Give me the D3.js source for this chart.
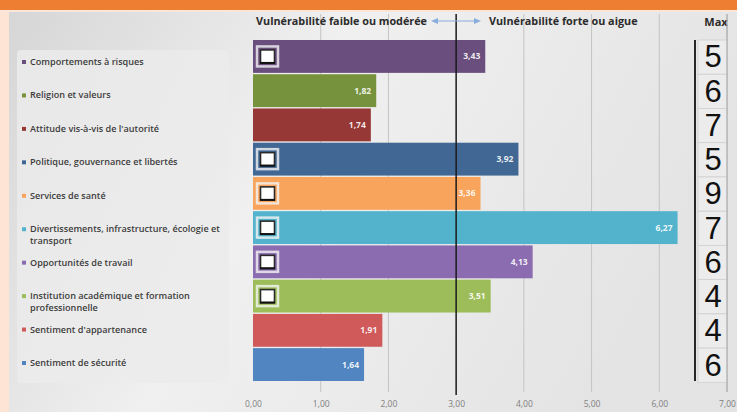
<!DOCTYPE html>
<html>
<head>
<meta charset="utf-8">
<script src="https://cdn.jsdelivr.net/npm/d3@7"></script>
<style>
  body { margin: 0; overflow: hidden; }
  svg { display: block; }
</style>
</head>
<body>
<script>
// categories from top to bottom
var categories = [
  "Comportements à risques",
  "Religion et valeurs",
  "Attitude vis-à-vis de l'autorité",
  "Politique, gouvernance et libertés",
  "Services de santé",
  "Divertissements, infrastructure, écologie et transport",
  "Opportunités de travail",
  "Institution académique et formation professionnelle",
  "Sentiment d'appartenance",
  "Sentiment de sécurité"
];
var legendLines = [
  ["Comportements à risques"],
  ["Religion et valeurs"],
  ["Attitude vis-à-vis de l'autorité"],
  ["Politique, gouvernance et libertés"],
  ["Services de santé"],
  ["Divertissements, infrastructure, écologie et", "transport"],
  ["Opportunités de travail"],
  ["Institution académique et formation", "professionnelle"],
  ["Sentiment d'appartenance"],
  ["Sentiment de sécurité"]
];
var values = [3.43, 1.82, 1.74, 3.92, 3.36, 6.27, 4.13, 3.51, 1.91, 1.64];
var maxValues = [5, 6, 7, 5, 9, 7, 6, 4, 4, 6];
var colors = ["#694e7e", "#76923c", "#963836", "#416794", "#f8a45c",
              "#53b3cc", "#8b6cb0", "#9dbd5a", "#d0595a", "#5085c2"];
var xTicks = [0, 1, 2, 3, 4, 5, 6, 7];
var threshold = 3;

var width = 737, height = 412;
var fmt = function(v) { return d3.format(".2f")(v).replace(".", ","); };

var svg = d3.select("body").append("svg")
  .attr("width", width)
  .attr("height", height);

var defs = svg.append("defs");
var bg = defs.append("linearGradient").attr("id", "bg")
  .attr("x1", 0).attr("y1", 0).attr("x2", 1).attr("y2", 0.3);
bg.append("stop").attr("offset", "0%").attr("stop-color", "#d5d5d5");
bg.append("stop").attr("offset", "45%").attr("stop-color", "#f0f0f0");
bg.append("stop").attr("offset", "100%").attr("stop-color", "#e4e4e4");

// background
svg.append("rect").attr("width", width).attr("height", height).attr("fill", "url(#bg)");
svg.append("rect").attr("width", width).attr("height", 10).attr("fill", "#ee7e32");
svg.append("rect").attr("y", 10).attr("width", width).attr("height", 2).attr("fill", "#fbe6d8");
svg.append("rect").attr("y", 12).attr("width", 9).attr("height", height - 12).attr("fill", "#fde4d4");

var x = d3.scaleLinear().domain([0, 7]).range([253, 727]);
var y = d3.scaleBand().domain(categories).range([40, 381]).paddingInner(0.04);
var yLegend = d3.scalePoint().domain(categories).range([65, 366]);

// legend panel
svg.append("rect")
  .attr("x", 17).attr("y", 50).attr("width", 212).attr("height", 333)
  .attr("rx", 4).attr("fill", "#ebebeb").attr("opacity", 0.85);

// gridlines
svg.append("g").selectAll("line")
  .data(xTicks.filter(function(d) { return d !== threshold && d !== 0; }))
  .enter().append("line")
  .attr("x1", function(d) { return x(d); })
  .attr("x2", function(d) { return x(d); })
  .attr("y1", 14).attr("y2", 392)
  .attr("stroke", "#c4c4c4").attr("stroke-width", 1);

// x axis labels
var axis = d3.axisBottom(x).tickValues(xTicks).tickFormat(fmt).tickSize(0).tickPadding(0);
var ax = svg.append("g").attr("transform", "translate(0,401)").call(axis);
ax.select(".domain").remove();
ax.selectAll("text")
  .attr("font-family", "Open Sans, sans-serif")
  .attr("font-size", 8.5)
  .attr("fill", "#808080");

// bars
svg.append("g").selectAll("rect")
  .data(values)
  .enter().append("rect")
  .attr("x", x(0))
  .attr("y", function(d, i) { return y(categories[i]); })
  .attr("width", function(d) { return x(d) - x(0); })
  .attr("height", y.bandwidth())
  .attr("fill", function(d, i) { return colors[i]; });

// threshold line
svg.append("line")
  .attr("x1", x(threshold)).attr("x2", x(threshold))
  .attr("y1", 14).attr("y2", 395)
  .attr("stroke", "#1a1a1a").attr("stroke-width", 1.5);

// value labels
svg.append("g").selectAll("text")
  .data(values)
  .enter().append("text")
  .attr("x", function(d) { return x(d) - 5; })
  .attr("y", function(d, i) { return y(categories[i]) + y.bandwidth() / 2 + 3; })
  .attr("text-anchor", "end")
  .attr("font-family", "Open Sans, sans-serif")
  .attr("font-weight", "bold")
  .attr("font-size", 8.5)
  .attr("fill", "#ffffff")
  .attr("fill-opacity", 0.9)
  .text(fmt);

// checkboxes on bars above threshold
var boxes = svg.append("g").selectAll("g")
  .data(values.map(function(v, i) { return { v: v, c: categories[i] }; })
    .filter(function(d) { return d.v > threshold; }))
  .enter().append("g")
  .attr("transform", function(d) { return "translate(" + (x(0) + 4) + "," + (y(d.c) + y.bandwidth() / 2 - 10) + ")"; });
boxes.append("rect").attr("width", 21).attr("height", 20)
  .attr("fill", "none").attr("stroke", "#f4f4f4").attr("stroke-width", 2.5).attr("opacity", 0.8);
boxes.append("rect").attr("x", 3.5).attr("y", 3.5).attr("width", 14).attr("height", 13)
  .attr("fill", "#ffffff").attr("stroke", "#2a2a2a").attr("stroke-width", 1.6);
boxes.append("line").attr("x1", 3).attr("x2", 18).attr("y1", 16.5).attr("y2", 16.5)
  .attr("stroke", "#111").attr("stroke-width", 2);

// legend
var leg = svg.append("g").selectAll("g")
  .data(categories)
  .enter().append("g")
  .attr("transform", function(d) { return "translate(22," + yLegend(d) + ")"; });
leg.append("rect").attr("x", 0).attr("y", -5).attr("width", 4).attr("height", 4)
  .attr("fill", function(d, i) { return colors[i]; });
leg.append("text")
  .attr("x", 8)
  .attr("font-family", "Open Sans, sans-serif")
  .attr("font-size", 9.1)
  .attr("font-weight", 600)
  .attr("fill", "#3d3d3d")
  .selectAll("tspan")
  .data(function(d, i) { return legendLines[i]; })
  .enter().append("tspan")
  .attr("x", 8)
  .attr("dy", function(d, j) { return j === 0 ? 0 : 12; })
  .text(function(d) { return d; });

// header
var head = svg.append("g")
  .attr("font-family", "Open Sans, sans-serif")
  .attr("font-weight", "bold")
  .attr("font-size", 10.8)
  .attr("fill", "#2b2b2b");
head.append("text").attr("x", 427).attr("y", 25).attr("text-anchor", "end")
  .text("Vulnérabilité faible ou modérée");
head.append("text").attr("x", 489).attr("y", 25)
  .text("Vulnérabilité forte ou aigue");
head.append("text").attr("x", 716).attr("y", 26).attr("text-anchor", "middle")
  .attr("font-size", 11).text("Max");

// double arrow
var arrowY = 21;
svg.append("line").attr("x1", 436).attr("x2", 476).attr("y1", arrowY).attr("y2", arrowY)
  .attr("stroke", "#8aaedb").attr("stroke-width", 1.2);
svg.append("path").attr("d", "M431," + arrowY + " l7,-3 l0,6 Z").attr("fill", "#8aaedb");
svg.append("path").attr("d", "M481," + arrowY + " l-7,-3 l0,6 Z").attr("fill", "#8aaedb");

// max column
var maxG = svg.append("g");
maxG.selectAll("rect")
  .data(maxValues)
  .enter().append("rect")
  .attr("x", 698)
  .attr("y", function(d, i) { return y(categories[i]); })
  .attr("width", 29)
  .attr("height", y.step())
  .attr("fill", "#ececec")
  .attr("stroke", "#d0d0d0")
  .attr("stroke-width", 0.8);
maxG.selectAll("text")
  .data(maxValues)
  .enter().append("text")
  .attr("x", 713)
  .attr("y", function(d, i) { return y(categories[i]) + y.bandwidth() / 2 + 11; })
  .attr("text-anchor", "middle")
  .attr("font-family", "Liberation Sans Narrow, Liberation Sans, sans-serif")
  .attr("font-size", 31)
  .attr("fill", "#111")
  .text(function(d) { return d; });
svg.append("line")
  .attr("x1", 695).attr("x2", 695)
  .attr("y1", y.range()[0]).attr("y2", y.range()[1])
  .attr("stroke", "#111").attr("stroke-width", 1.8);
svg.append("line")
  .attr("x1", x(7)).attr("x2", x(7))
  .attr("y1", 14).attr("y2", 392)
  .attr("stroke", "#a8a8a8").attr("stroke-width", 1);
</script>
</body>
</html>
